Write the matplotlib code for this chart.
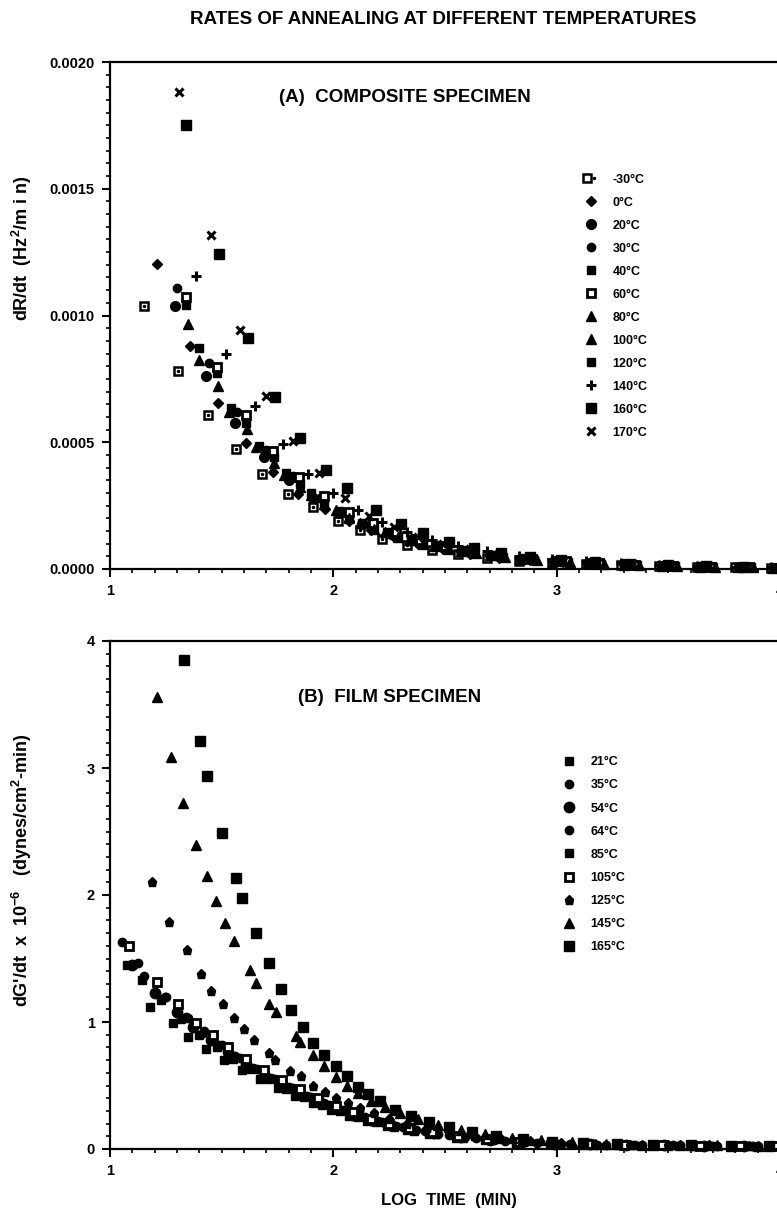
import matplotlib
matplotlib.use('Agg')
import matplotlib.pyplot as plt
import matplotlib.ticker as mticker
from matplotlib.legend_handler import HandlerTuple

# ---------------- data: panel A, composite specimen (dR/dt in 1e-3 Hz^2/min) ----------------
a_m30_x = [1.154, 1.306, 1.438, 1.566, 1.682, 1.798, 1.91, 2.02, 2.12, 2.22, 2.33, 2.44, 2.56, 2.69, 2.83, 2.98, 3.13, 3.29, 3.46, 3.63, 3.8, 3.96]
a_m30_y = [1.037, 0.782, 0.606, 0.472, 0.374, 0.295, 0.243, 0.19, 0.152, 0.12, 0.095, 0.075, 0.058, 0.044, 0.033, 0.025, 0.019, 0.014, 0.01, 0.008, 0.006, 0.005]
a_0_x = [1.211, 1.356, 1.484, 1.607, 1.73, 1.843, 1.963, 2.07, 2.17, 2.27, 2.38, 2.49, 2.61, 2.74, 2.88, 3.03, 3.18, 3.34, 3.51, 3.68, 3.85]
a_0_y = [1.205, 0.878, 0.654, 0.496, 0.383, 0.295, 0.236, 0.19, 0.155, 0.125, 0.098, 0.077, 0.06, 0.045, 0.034, 0.026, 0.02, 0.015, 0.011, 0.008, 0.006]
a_20_x = [1.29, 1.43, 1.559, 1.689, 1.80, 1.91, 2.025, 2.13, 2.257, 2.354, 2.459, 2.57, 2.7, 2.84, 2.99, 3.14, 3.3, 3.47, 3.64, 3.82, 3.98]
a_20_y = [1.037, 0.761, 0.575, 0.44, 0.35, 0.28, 0.22, 0.177, 0.138, 0.118, 0.092, 0.072, 0.055, 0.041, 0.031, 0.024, 0.018, 0.013, 0.009, 0.007, 0.005]
a_30_x = [1.30, 1.445, 1.57, 1.70, 1.82, 1.94, 2.05, 2.16, 2.26, 2.37, 2.48, 2.6, 2.73, 2.87, 3.02, 3.17, 3.33, 3.5, 3.67, 3.84]
a_30_y = [1.108, 0.812, 0.62, 0.47, 0.365, 0.28, 0.225, 0.175, 0.14, 0.11, 0.087, 0.068, 0.052, 0.039, 0.029, 0.022, 0.016, 0.012, 0.009, 0.006]
a_40_x = [1.34, 1.481, 1.609, 1.735, 1.85, 1.96, 2.07, 2.18, 2.29, 2.4, 2.51, 2.63, 2.76, 2.9, 3.05, 3.2, 3.36, 3.53, 3.7, 3.87]
a_40_y = [1.043, 0.774, 0.575, 0.44, 0.335, 0.262, 0.205, 0.163, 0.13, 0.104, 0.083, 0.065, 0.049, 0.037, 0.028, 0.021, 0.016, 0.012, 0.009, 0.006]
a_60_x = [1.342, 1.481, 1.607, 1.731, 1.846, 1.958, 2.07, 2.178, 2.28, 2.39, 2.5, 2.62, 2.75, 2.89, 3.04, 3.19, 3.35, 3.52, 3.69, 3.86]
a_60_y = [1.072, 0.798, 0.606, 0.466, 0.361, 0.286, 0.223, 0.18, 0.145, 0.115, 0.091, 0.071, 0.054, 0.041, 0.031, 0.023, 0.017, 0.013, 0.009, 0.007]
a_80_x = [1.35, 1.484, 1.614, 1.734, 1.85, 1.96, 2.07, 2.18, 2.29, 2.4, 2.52, 2.64, 2.77, 2.91, 3.06, 3.21, 3.37, 3.54, 3.71, 3.88]
a_80_y = [0.968, 0.722, 0.551, 0.42, 0.325, 0.255, 0.2, 0.158, 0.126, 0.1, 0.079, 0.062, 0.047, 0.035, 0.027, 0.02, 0.015, 0.011, 0.008, 0.006]
a_100_x = [1.398, 1.532, 1.655, 1.78, 1.898, 2.01, 2.12, 2.23, 2.34, 2.45, 2.57, 2.7, 2.84, 2.99, 3.14, 3.3, 3.47, 3.64, 3.81, 3.97]
a_100_y = [0.823, 0.618, 0.48, 0.372, 0.292, 0.232, 0.183, 0.146, 0.116, 0.092, 0.072, 0.055, 0.041, 0.031, 0.023, 0.017, 0.013, 0.009, 0.007, 0.005]
a_120_x = [1.398, 1.544, 1.667, 1.786, 1.898, 2.025, 2.13, 2.24, 2.35, 2.46, 2.58, 2.71, 2.85, 3.0, 3.15, 3.31, 3.48, 3.65, 3.82, 3.98]
a_120_y = [0.871, 0.635, 0.486, 0.378, 0.299, 0.23, 0.182, 0.146, 0.117, 0.093, 0.073, 0.056, 0.042, 0.032, 0.024, 0.018, 0.013, 0.01, 0.007, 0.005]
a_140_x = [1.384, 1.519, 1.649, 1.774, 1.888, 1.999, 2.109, 2.22, 2.33, 2.44, 2.56, 2.69, 2.83, 2.98, 3.13, 3.29, 3.46, 3.63, 3.8, 3.96]
a_140_y = [1.155, 0.848, 0.643, 0.492, 0.374, 0.299, 0.233, 0.184, 0.145, 0.115, 0.09, 0.07, 0.053, 0.04, 0.03, 0.022, 0.016, 0.012, 0.009, 0.006]
a_160_x = [1.34, 1.487, 1.617, 1.741, 1.85, 1.969, 2.061, 2.193, 2.302, 2.402, 2.516, 2.63, 2.75, 2.88, 3.02, 3.17, 3.33, 3.5, 3.67, 3.84]
a_160_y = [1.75, 1.244, 0.912, 0.678, 0.515, 0.391, 0.318, 0.232, 0.177, 0.141, 0.107, 0.082, 0.062, 0.047, 0.035, 0.026, 0.019, 0.014, 0.01, 0.007]
a_170_x = [1.31, 1.453, 1.58, 1.70, 1.82, 1.936, 2.052, 2.16, 2.27, 2.38, 2.49, 2.61, 2.74, 2.88, 3.03, 3.18, 3.34, 3.51, 3.68, 3.85]
a_170_y = [1.88, 1.316, 0.944, 0.682, 0.505, 0.378, 0.28, 0.21, 0.165, 0.128, 0.1, 0.077, 0.058, 0.044, 0.033, 0.025, 0.018, 0.013, 0.01, 0.007]

# ---------------- data: panel B, film specimen (dG'/dt x 1e-6) ----------------
b_21_x = [1.075, 1.18, 1.281, 1.351, 1.43, 1.51, 1.59, 1.67, 1.75, 1.83, 1.91, 1.99, 2.07, 2.15, 2.24, 2.33, 2.43, 2.55, 2.68, 2.82, 2.97, 3.12, 3.28, 3.45, 3.62, 3.8, 3.96]
b_21_y = [1.449, 1.12, 0.99, 0.885, 0.79, 0.7, 0.62, 0.55, 0.48, 0.42, 0.36, 0.31, 0.26, 0.22, 0.18, 0.15, 0.12, 0.09, 0.07, 0.05, 0.04, 0.035, 0.03, 0.028, 0.025, 0.024, 0.022]
b_35_x = [1.052, 1.15, 1.25, 1.34, 1.42, 1.50, 1.58, 1.66, 1.74, 1.82, 1.90, 1.98, 2.06, 2.14, 2.22, 2.31, 2.41, 2.52, 2.64, 2.77, 2.91, 3.06, 3.22, 3.38, 3.55, 3.72, 3.9]
b_35_y = [1.632, 1.36, 1.2, 1.04, 0.93, 0.82, 0.72, 0.63, 0.55, 0.48, 0.41, 0.35, 0.3, 0.25, 0.21, 0.17, 0.14, 0.11, 0.085, 0.065, 0.05, 0.04, 0.035, 0.03, 0.028, 0.026, 0.024]
b_54_x = [1.097, 1.202, 1.30, 1.37, 1.45, 1.53, 1.61, 1.69, 1.77, 1.85, 1.93, 2.01, 2.09, 2.17, 2.26, 2.35, 2.45, 2.57, 2.7, 2.84, 2.99, 3.15, 3.31, 3.48, 3.66, 3.84]
b_54_y = [1.449, 1.231, 1.08, 0.96, 0.86, 0.76, 0.67, 0.59, 0.51, 0.44, 0.38, 0.32, 0.27, 0.23, 0.19, 0.155, 0.125, 0.095, 0.072, 0.055, 0.042, 0.036, 0.031, 0.028, 0.026, 0.024]
b_64_x = [1.127, 1.247, 1.351, 1.418, 1.49, 1.56, 1.64, 1.72, 1.80, 1.88, 1.96, 2.04, 2.12, 2.2, 2.28, 2.37, 2.47, 2.59, 2.72, 2.86, 3.02, 3.18, 3.35, 3.52, 3.7, 3.88]
b_64_y = [1.467, 1.2, 1.029, 0.911, 0.82, 0.73, 0.64, 0.56, 0.49, 0.42, 0.36, 0.31, 0.26, 0.22, 0.18, 0.15, 0.12, 0.092, 0.07, 0.054, 0.042, 0.035, 0.03, 0.028, 0.026, 0.024]
b_85_x = [1.145, 1.23, 1.32, 1.40, 1.48, 1.55, 1.63, 1.71, 1.79, 1.87, 1.95, 2.03, 2.11, 2.19, 2.27, 2.36, 2.46, 2.58, 2.71, 2.85, 3.0, 3.16, 3.33, 3.5, 3.68, 3.86]
b_85_y = [1.331, 1.17, 1.02, 0.9, 0.8, 0.71, 0.63, 0.55, 0.47, 0.41, 0.35, 0.3, 0.25, 0.21, 0.175, 0.145, 0.115, 0.088, 0.068, 0.052, 0.041, 0.034, 0.03, 0.027, 0.025, 0.023]
b_105_x = [1.085, 1.209, 1.303, 1.386, 1.459, 1.53, 1.61, 1.69, 1.77, 1.85, 1.93, 2.01, 2.09, 2.17, 2.25, 2.34, 2.44, 2.56, 2.69, 2.83, 2.98, 3.14, 3.3, 3.47, 3.64, 3.82, 3.98]
b_105_y = [1.595, 1.317, 1.143, 0.995, 0.898, 0.8, 0.71, 0.62, 0.54, 0.47, 0.4, 0.34, 0.29, 0.24, 0.2, 0.165, 0.13, 0.1, 0.076, 0.058, 0.045, 0.037, 0.032, 0.029, 0.027, 0.025, 0.023]
b_125_x = [1.187, 1.266, 1.344, 1.407, 1.453, 1.504, 1.557, 1.60, 1.643, 1.71, 1.741, 1.806, 1.857, 1.909, 1.962, 2.012, 2.065, 2.12, 2.18, 2.25, 2.33, 2.42, 2.52, 2.63, 2.75, 2.88, 3.02, 3.17, 3.33, 3.5, 3.68, 3.86]
b_125_y = [2.105, 1.79, 1.567, 1.378, 1.246, 1.139, 1.029, 0.945, 0.862, 0.757, 0.703, 0.616, 0.571, 0.5, 0.452, 0.405, 0.36, 0.32, 0.28, 0.24, 0.2, 0.165, 0.13, 0.1, 0.078, 0.06, 0.047, 0.039, 0.033, 0.03, 0.028, 0.026]
b_145_x = [1.212, 1.272, 1.329, 1.384, 1.434, 1.474, 1.516, 1.557, 1.625, 1.653, 1.714, 1.743, 1.834, 1.852, 1.907, 1.96, 2.01, 2.06, 2.11, 2.17, 2.23, 2.3, 2.38, 2.47, 2.57, 2.68, 2.8, 2.93, 3.07, 3.22, 3.38, 3.55, 3.72, 3.9]
b_145_y = [3.557, 3.089, 2.727, 2.394, 2.15, 1.955, 1.782, 1.64, 1.409, 1.305, 1.139, 1.076, 0.89, 0.845, 0.738, 0.65, 0.57, 0.5, 0.44, 0.38, 0.33, 0.28, 0.235, 0.19, 0.15, 0.12, 0.09, 0.068, 0.052, 0.042, 0.035, 0.031, 0.028, 0.026]
b_165_x = [1.333, 1.404, 1.436, 1.501, 1.564, 1.59, 1.653, 1.71, 1.764, 1.812, 1.866, 1.911, 1.959, 2.012, 2.062, 2.11, 2.155, 2.208, 2.276, 2.35, 2.43, 2.52, 2.62, 2.73, 2.85, 2.98, 3.12, 3.27, 3.43, 3.6, 3.78, 3.95]
b_165_y = [3.85, 3.215, 2.937, 2.491, 2.131, 1.974, 1.698, 1.465, 1.258, 1.092, 0.96, 0.836, 0.738, 0.65, 0.571, 0.491, 0.431, 0.378, 0.306, 0.26, 0.21, 0.17, 0.13, 0.1, 0.075, 0.057, 0.045, 0.037, 0.032, 0.029, 0.027, 0.025]

labels_a = ['-30°C', '0°C', '20°C', '30°C', '40°C', '60°C', '80°C', '100°C', '120°C', '140°C', '160°C', '170°C']
labels_b = ['21°C', '35°C', '54°C', '64°C', '85°C', '105°C', '125°C', '145°C', '165°C']

# ---------------- style ----------------
W, H = 777, 1213
fontName = 'Liberation Sans'
plt.rcParams.update({
    'font.family': fontName,
    'font.weight': 'bold',
    'mathtext.fontset': 'custom',
    'mathtext.rm': fontName + ':bold',
    'mathtext.bf': fontName + ':bold',
    'mathtext.default': 'bf',
})

# marker, size, face colour, edge width  (one per series)
style_a = [
    ('s', 5.5, 'white', 1.8),   # -30 (square with dot)
    ('D', 4.8, 'black', 1.0),   # 0
    ('o', 7.0, 'black', 1.0),   # 20
    ('o', 6.0, 'black', 1.0),   # 30
    ('s', 5.8, 'black', 1.0),   # 40
    ('s', 5.8, 'white', 2.0),   # 60
    ('^', 6.5, 'black', 1.0),   # 80
    ('^', 6.5, 'black', 1.0),   # 100
    ('s', 6.2, 'black', 1.0),   # 120
    ('+', 7.0, 'black', 2.2),   # 140
    ('s', 6.5, 'black', 1.0),   # 160
    ('x', 6.0, 'black', 2.2),   # 170
]
style_b = [
    ('s', 6.2, 'black', 1.0),   # 21
    ('o', 6.0, 'black', 1.0),   # 35
    ('o', 7.5, 'black', 1.0),   # 54
    ('o', 6.0, 'black', 1.0),   # 64
    ('s', 5.8, 'black', 1.0),   # 85
    ('s', 5.8, 'white', 2.0),   # 105
    ('p', 6.8, 'black', 1.0),   # 125
    ('^', 6.8, 'black', 1.0),   # 145
    ('s', 6.8, 'black', 1.0),   # 165
]

tickSize = 10.5
legendSize = 9


def style_axis(ax):
    for side in ['left', 'bottom', 'top']:
        ax.spines[side].set_linewidth(1.6)
    ax.spines['right'].set_visible(False)
    ax.set_xlim(1, 4)
    ax.set_xticks([1, 2, 3, 4])
    ax.xaxis.set_minor_locator(mticker.MultipleLocator(0.1))
    ax.tick_params(which='major', direction='out', length=6, width=1.5, labelsize=tickSize, pad=5)
    ax.tick_params(which='minor', direction='out', length=3, width=1.2)
    ax.tick_params(axis='x', which='both', top=False)
    ax.tick_params(axis='y', which='both', right=False)


fig = plt.figure(figsize=(W / 100, H / 100), dpi=100)

# ---------------- panel A ----------------
axA = fig.add_axes([110 / W, 1 - 569 / H, 670 / W, 507 / H])
series_a = [(a_m30_x, a_m30_y), (a_0_x, a_0_y), (a_20_x, a_20_y), (a_30_x, a_30_y),
            (a_40_x, a_40_y), (a_60_x, a_60_y), (a_80_x, a_80_y), (a_100_x, a_100_y),
            (a_120_x, a_120_y), (a_140_x, a_140_y), (a_160_x, a_160_y), (a_170_x, a_170_y)]
handles_a = []
for (xs, ys), (mk, ms, fc, mw) in zip(series_a, style_a):
    yv = [v * 1e-3 for v in ys]
    h, = axA.plot(xs, yv, ls='none', marker=mk, ms=ms, mfc=fc, mec='black', mew=mw, clip_on=False)
    handles_a.append(h)
# dot inside the -30 squares
dot, = axA.plot(a_m30_x, [v * 1e-3 for v in a_m30_y], ls='none', marker='o', ms=1.5,
                color='black', clip_on=False)
handles_a[0] = (handles_a[0], dot)

style_axis(axA)
axA.set_ylim(0, 0.002)
axA.yaxis.set_major_locator(mticker.MultipleLocator(0.0005))
axA.yaxis.set_minor_locator(mticker.MultipleLocator(0.00005))
axA.yaxis.set_major_formatter(mticker.FormatStrFormatter('%.4f'))

legA = axA.legend(handles_a, labels_a, loc='upper left', bbox_to_anchor=(0.708, 0.78),
                  frameon=False, fontsize=legendSize, handlelength=1.0, handletextpad=1.26,
                  labelspacing=0.88, borderpad=0, borderaxespad=0,
                  handler_map={tuple: HandlerTuple(ndivide=None, pad=0)})

# ---------------- panel B ----------------
axB = fig.add_axes([110 / W, 1 - 1149 / H, 670 / W, 508 / H])
series_b = [(b_21_x, b_21_y), (b_35_x, b_35_y), (b_54_x, b_54_y), (b_64_x, b_64_y),
            (b_85_x, b_85_y), (b_105_x, b_105_y), (b_125_x, b_125_y), (b_145_x, b_145_y),
            (b_165_x, b_165_y)]
handles_b = []
for (xs, ys), (mk, ms, fc, mw) in zip(series_b, style_b):
    h, = axB.plot(xs, ys, ls='none', marker=mk, ms=ms, mfc=fc, mec='black', mew=mw, clip_on=False)
    handles_b.append(h)

style_axis(axB)
axB.set_ylim(0, 4)
axB.yaxis.set_major_locator(mticker.MultipleLocator(1))
axB.yaxis.set_minor_locator(mticker.MultipleLocator(0.1))

legB = axB.legend(handles_b, labels_b, loc='upper left', bbox_to_anchor=(0.675, 0.773),
                  frameon=False, fontsize=legendSize, handlelength=1.0, handletextpad=1.26,
                  labelspacing=0.89, borderpad=0, borderaxespad=0)

# ---------------- text ----------------
fig.text(443 / W, 1 - 20 / H, 'RATES OF ANNEALING AT DIFFERENT TEMPERATURES',
         ha='center', va='center', fontsize=13.5, weight='bold')
fig.text(405 / W, 1 - 98 / H, '(A)  COMPOSITE SPECIMEN', ha='center', va='center',
         fontsize=13.5, weight='bold')
fig.text(390 / W, 1 - 698 / H, '(B)  FILM SPECIMEN', ha='center', va='center',
         fontsize=13.5, weight='bold')
fig.text(22 / W, 1 - 248 / H, 'dR/dt  (Hz$^2$/m i n)', rotation=90, ha='center', va='center',
         fontsize=13, weight='bold')
fig.text(22 / W, 1 - 870 / H, "dG'/dt  x  10$^{-6}$   (dynes/cm$^2$-min)", rotation=90,
         ha='center', va='center', fontsize=13, weight='bold')
fig.text(449 / W, 1 - 1201 / H, 'LOG  TIME  (MIN)', ha='center', va='center',
         fontsize=12, weight='bold')

fig.savefig('out.png', dpi=100)
